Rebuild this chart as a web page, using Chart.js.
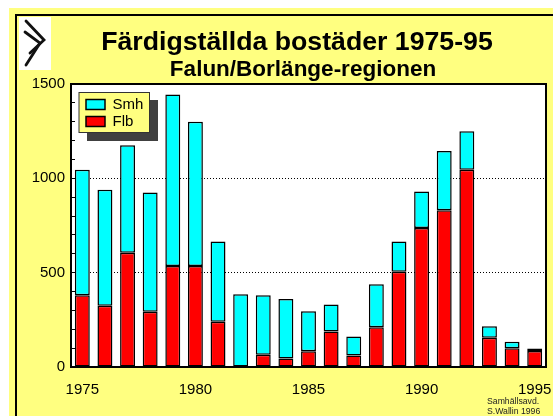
<!DOCTYPE html>
<html>
<head>
<meta charset="utf-8">
<style>html,body{margin:0;padding:0;background:#fff}#w{width:553px;height:416px;position:relative}</style>
<script src="https://cdn.jsdelivr.net/npm/chart.js@4"></script>
</head>
<body>
<div id="w"><canvas id="c" width="553" height="416"></canvas></div>
<script>
const years = ['1975','1976','1977','1978','1979','1980','1981','1982','1983','1984','1985','1986','1987','1988','1989','1990','1991','1992','1993','1994','1995'];
const flb = [380,325,605,293,535,535,240,0,65,45,84,188,61,211,505,737,831,1045,155,100,85];
const smh = [665,615,570,632,910,765,425,385,315,315,212,143,101,227,160,193,314,205,61,34,13];
const title = 'Färdigställda bostäder 1975-95';
const subtitle = 'Falun/Borlänge-regionen';
const credit = ['Samhällsavd.','S.Wallin 1996'];
const FONT = '"Liberation Sans", Arial, sans-serif';
const YELLOW = '#FFFF80';

const decor = {
  id:'decor',
  afterLayout(chart){
    const sub = chart.boxes.find(b => b.options && b.options.text === subtitle);
    if (sub) sub.left = 60;
    const ttl = chart.boxes.find(b => b.options && b.options.text === title);
    if (ttl) ttl.left = 48;
    const lg = chart.legend;
    const w = lg.width, h = lg.height;
    lg.left = 84; lg.right = 84 + w; lg.top = 95; lg.bottom = 95 + h;
  },
  beforeDraw(chart){
    const c = chart.ctx, a = chart.chartArea;
    c.save();
    c.fillStyle = YELLOW; c.fillRect(9,8,544,408);
    c.strokeStyle = '#000'; c.lineWidth = 2;
    c.beginPath(); c.moveTo(16,416); c.lineTo(16,15); c.lineTo(553,15); c.stroke();
    // logo
    c.fillStyle = '#fff'; c.fillRect(19,17,32,53);
    c.strokeStyle = '#111'; c.lineCap = 'round'; c.lineJoin = 'miter';
    c.lineWidth = 2.8;
    c.beginPath(); c.moveTo(26,21); c.lineTo(44,40); c.lineTo(30,53); c.stroke();
    c.beginPath(); c.moveTo(25,32); c.lineTo(40,43); c.lineTo(26,65); c.stroke();
    // plot area
    c.fillStyle = '#fff'; c.fillRect(a.left,a.top,a.right-a.left,a.bottom-a.top);
    // legend box and shadow
    c.fillStyle = '#404040'; c.fillRect(87,100,71,41);
    c.fillStyle = YELLOW; c.fillRect(79,92.5,70.5,40);
    c.strokeStyle = '#333'; c.lineWidth = 1; c.strokeRect(79,92.5,70.5,40);
    c.restore();
  },
  afterDraw(chart){
    const c = chart.ctx, a = chart.chartArea;
    c.save();
    c.strokeStyle = '#000'; c.lineWidth = 2;
    c.strokeRect(a.left,a.top,a.right-a.left,a.bottom-a.top);
    c.fillStyle = '#222'; c.font = '8.7px ' + FONT; c.textAlign = 'left'; c.textBaseline = 'middle';
    c.fillText(credit[0],487,401.5);
    c.fillText(credit[1],487,412);
    c.restore();
  }
};

new Chart(document.getElementById('c'),{
  type:'bar',
  data:{
    labels:years,
    datasets:[
      {label:'Flb',data:flb,backgroundColor:'#FF0000',borderColor:'#000',borderWidth:1.5,borderSkipped:false},
      {label:'Smh',data:smh,backgroundColor:'#00FFFF',borderColor:'#000',borderWidth:1.5,borderSkipped:false}
    ]
  },
  plugins:[decor],
  options:{
    responsive:false,
    animation:false,
    layout:{autoPadding:false,padding:{left:0,right:7,top:0,bottom:0}},
    datasets:{bar:{barPercentage:0.66,categoryPercentage:1}},
    plugins:{
      title:{display:true,text:title,color:'#000',font:{family:FONT,size:26.7,weight:'bold',lineHeight:1},padding:{top:29.5,bottom:0}},
      subtitle:{display:true,text:subtitle,color:'#000',font:{family:FONT,size:22.5,weight:'bold',lineHeight:1},padding:{top:2.7,bottom:2.6}},
      legend:{
        position:'chartArea',align:'start',reverse:true,
        labels:{boxWidth:19,boxHeight:10,padding:2,color:'#000',font:{family:FONT,size:15}}
      },
      tooltip:{enabled:false}
    },
    scales:{
      x:{
        stacked:true,
        grid:{display:false},
        border:{display:true,color:'#000',width:2},
        afterFit(s){s.height=49;s.paddingRight=0;s.paddingLeft=0;},
        ticks:{
          autoSkip:false,maxRotation:0,minRotation:0,padding:6,color:'#000',
          font:{family:FONT,size:15},
          callback(v,i){return i%5===0?years[i]:'';}
        }
      },
      y:{
        stacked:true,min:0,max:1500,
        afterFit(s){s.width=71;s.paddingTop=0;s.paddingBottom=0;},
        border:{display:true,color:'#000',width:2,dash:[1,2]},
        grid:{
          drawOnChartArea:true,tickLength:-4,tickColor:'#000',tickWidth:1,
          color(ctx){const v=ctx.tick&&ctx.tick.value;return (v===500||v===1000)?'#000':'rgba(0,0,0,0)';},
          lineWidth:1
        },
        ticks:{
          stepSize:100,autoSkip:false,padding:10,color:'#000',font:{family:FONT,size:15},
          callback(v){return v%500===0?String(v):'';}
        }
      }
    }
  }
});
</script>
</body>
</html>
